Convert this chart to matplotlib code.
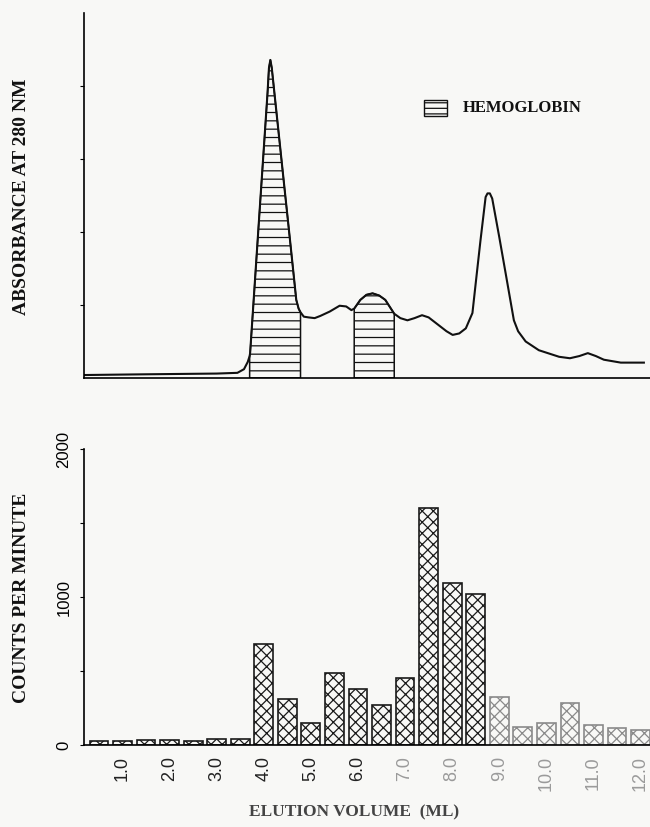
"""
Gel filtration profile: absorbance trace (top) and radioactivity per fraction (bottom)
"""

import matplotlib
matplotlib.use('Agg')
import matplotlib.pyplot as plt
from matplotlib.patches import Rectangle
import numpy as np

# Absorbance trace (ml, arbitrary units)
trace_ml = [0.20, 1.50, 3.00, 3.44, 3.58, 3.66, 3.70, 3.71, 3.80, 3.90, 4.00, 4.08,
            4.11, 4.14, 4.17, 4.25, 4.35, 4.45, 4.57, 4.69, 4.74, 4.78, 4.85, 4.95,
            5.08, 5.20, 5.40, 5.61, 5.75, 5.86, 5.92, 6.05, 6.18, 6.31, 6.45, 6.58, 6.70,
            6.77, 6.90, 7.05, 7.20, 7.36, 7.50, 7.72, 7.88, 8.01, 8.15, 8.29, 8.43,
            8.50, 8.60, 8.71, 8.75, 8.80, 8.85, 9.00, 9.15, 9.31, 9.40, 9.56, 9.84, 10.27,
            10.50, 10.70, 10.88, 11.05, 11.22, 11.58, 12.07]
trace_abs = [0.04, 0.05, 0.06, 0.07, 0.12, 0.22, 0.30, 0.34, 1.21, 2.18, 3.14, 3.91,
             4.25, 4.36, 4.25, 3.76, 3.15, 2.54, 1.81, 1.07, 0.95, 0.90, 0.84, 0.83,
             0.82, 0.85, 0.91, 0.99, 0.98, 0.93, 0.95, 1.07, 1.14, 1.16, 1.13, 1.07, 0.95,
             0.88, 0.82, 0.79, 0.82, 0.86, 0.83, 0.72, 0.64, 0.59, 0.61, 0.68, 0.89,
             1.30, 1.88, 2.48, 2.53, 2.53, 2.46, 1.93, 1.38, 0.79, 0.64, 0.50, 0.38, 0.29,
             0.27, 0.30, 0.34, 0.30, 0.25, 0.21, 0.21]

# hemoglobin-containing regions (ml)
hemo_ranges = [(3.70, 4.78), (5.92, 6.77)]

# Counts per minute per 0.5 ml fraction
fraction_ml = [0.5, 1.0, 1.5, 2.0, 2.5, 3.0, 3.5, 4.0, 4.5, 5.0, 5.5, 6.0,
               6.5, 7.0, 7.5, 8.0, 8.5, 9.0, 9.5, 10.0, 10.5, 11.0, 11.5, 12.0]
cpm = [30, 25, 35, 35, 28, 40, 40, 680, 310, 150, 484, 380,
       270, 455, 1600, 1097, 1020, 326, 120, 150, 286, 135, 113, 101]

x_ticks = [1.0, 2.0, 3.0, 4.0, 5.0, 6.0, 7.0, 8.0, 9.0, 10.0, 11.0, 12.0]
x_tick_labels = ['1.0', '2.0', '3.0', '4.0', '5.0', '6.0', '7.0', '8.0', '9.0', '10.0', '11.0', '12.0']
cpm_ticks = [0, 500, 1000, 1500, 2000]
cpm_tick_labels = ['0', '', '1000', '', '2000']

bg = '#f8f8f6'
ink = '#111111'
serif_bold = dict(family='Liberation Serif', weight='bold')
plt.rcParams['hatch.linewidth'] = 0.9

fig = plt.figure(figsize=(6.5, 8.27), dpi=100, facecolor=bg)

# ---- top panel: absorbance ----
ax1 = fig.add_axes([0.129, 0.543, 0.871, 0.441], facecolor=bg)
x = np.array(trace_ml)
y = np.array(trace_abs)
ax1.plot(x, y, color=ink, lw=1.5, solid_joinstyle='round')
for lo, hi in hemo_ranges:
    mask = (x >= lo) & (x <= hi)
    ax1.fill_between(x[mask], 0, y[mask], facecolor='none', edgecolor=ink,
                     hatch='--', lw=1.1)
ax1.set_xlim(0.18, 12.2)
ax1.set_ylim(0, 5.0)
ax1.set_yticks([1, 2, 3, 4])
ax1.set_yticklabels([])
ax1.set_xticks([])
ax1.tick_params(axis='y', direction='out', length=3, width=0.8)
for s in ['top', 'right']:
    ax1.spines[s].set_visible(False)
for s in ['left', 'bottom']:
    ax1.spines[s].set_linewidth(1.2)

# legend drawn by hand, no frame
ax1.add_patch(Rectangle((0.601, 0.719), 0.041, 0.044, transform=ax1.transAxes,
                        facecolor='none', edgecolor=ink, hatch='---', lw=1.0,
                        clip_on=False))
ax1.text(0.670, 0.741, 'HEMOGLOBIN', transform=ax1.transAxes, fontsize=12,
         va='center', ha='left', color=ink, **serif_bold)

# ---- bottom panel: counts per minute ----
ax2 = fig.add_axes([0.129, 0.099, 0.871, 0.358], facecolor=bg)
edge_cols = ['#1a1a1a'] * 17 + ['#8a8a8a'] * 7
ax2.bar(fraction_ml, cpm, width=0.4, facecolor='none', edgecolor=edge_cols,
        hatch='xxx', lw=1.2)
ax2.set_xlim(0.18, 12.2)
ax2.set_ylim(0, 2000)
ax2.set_yticks(cpm_ticks)
ax2.set_yticklabels(cpm_tick_labels, rotation=90, va='center', family='Liberation Sans',
                    fontsize=12)
ax2.set_xticks(x_ticks)
ax2.set_xticklabels(x_tick_labels, rotation=90, family='Liberation Sans', fontsize=13)
label_cols = ['#222222'] * 6 + ['#9a9a9a'] * 6
for lbl, c in zip(ax2.get_xticklabels(), label_cols):
    lbl.set_color(c)
ax2.tick_params(axis='x', length=0, pad=8)
ax2.tick_params(axis='y', direction='out', length=3, width=0.8, pad=6)
for s in ['top', 'right']:
    ax2.spines[s].set_visible(False)
for s in ['left', 'bottom']:
    ax2.spines[s].set_linewidth(1.2)

# axis titles placed on the figure
fig.text(0.033, 0.762, 'ABSORBANCE AT 280 NM', rotation=90, ha='center', va='center',
         fontsize=14, color=ink, **serif_bold)
fig.text(0.033, 0.2775, 'COUNTS PER MINUTE', rotation=90, ha='center', va='center',
         fontsize=14, color=ink, **serif_bold)
fig.text(0.545, 0.018, 'ELUTION VOLUME  (ML)', ha='center', va='center',
         fontsize=12.5, color='#444444', **serif_bold)

fig.savefig('out.png', dpi=100, facecolor=bg)
